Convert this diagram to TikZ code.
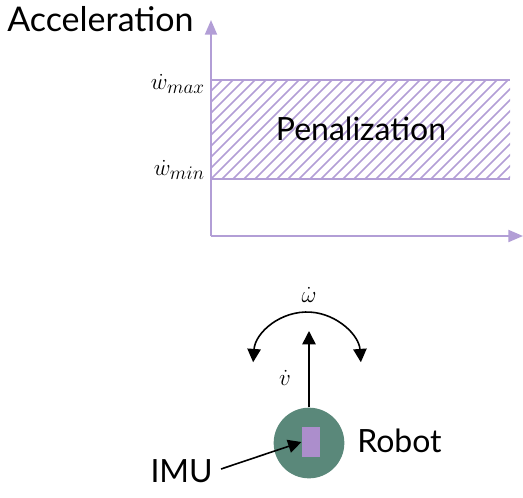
\documentclass[tikz,border=0pt]{standalone}
\usepackage{fontspec}
\setmainfont{Lato}
\usetikzlibrary{arrows.meta}
\definecolor{axiscol}{RGB}{178,158,214}
\definecolor{robotcol}{RGB}{90,136,122}
\definecolor{imucol}{RGB}{172,142,204}
\begin{document}
\begin{tikzpicture}[x=0.75pt,y=-0.75pt,
  axisline/.style={draw=axiscol,line width=1.5pt},
  axisarrow/.style={axisline,-{Triangle[length=11pt,width=9pt]}},
  hatch/.style={draw=axiscol,line width=1.3pt},
  blackarrow/.style={draw=black,line width=1.2pt,-{Triangle[length=10pt,width=10pt]}},
  label/.style={inner sep=0pt,font=\fontsize{24}{26}\selectfont},
  mathlabel/.style={inner sep=0pt,font=\fontsize{19}{21}\selectfont}]
\useasboundingbox (0,0) rectangle (523,497);

% axes
\coordinate (O) at (211,236);
\coordinate (ytip) at (211,20);
\coordinate (xtip) at (523,236);
\draw[axisarrow] (O) -- (ytip);
\draw[axisarrow] (O) -- (xtip);

% hatched penalization band
\coordinate (bl) at (211,179);
\coordinate (tr) at (510,80);
\begin{scope}
  \clip (bl) rectangle (tr);
  \foreach \i in {-110,-99,...,310}
    \draw[hatch] (211+\i,179) -- ++(100,-100);
\end{scope}
\draw[axisline] (211,80) -- (tr);
\draw[axisline] (bl) -- (510,179);

\node[label,anchor=west,font=\fontsize{25.5}{27}\selectfont] (acc) at (7,19) {Acceleration};
\node[label] (pen) at (361,129) {Penalization};
\node[mathlabel,anchor=east] (wmax) at (205,84) {$\dot{w}_{max}$};
\node[mathlabel,anchor=east] (wmin) at (205,170) {$\dot{w}_{min}$};

% robot
\node[circle,fill=robotcol,minimum size=53pt,inner sep=0pt] (robot) at (309,443) {};
\node[fill=imucol,minimum width=14pt,minimum height=22pt,inner sep=0pt] (imu) at (311,442) {};
\node[label,anchor=west] (rlabel) at (357,441) {Robot};
\node[label,anchor=east] (imulabel) at (213,471) {IMU};
\draw[blackarrow] (imulabel.east) ++(8,-2) coordinate (imustart) -- (imu.west);

% velocity and angular acceleration
\coordinate (vtip) at (309,331);
\draw[blackarrow] (robot.north) -- (vtip);
\node[mathlabel] (vdot) at (285,378) {$\dot{v}$};
\coordinate (arcc) at (307,366);
\draw[line width=1.2pt,{Triangle[length=10pt,width=10pt]}-{Triangle[length=10pt,width=10pt]}]
  ([shift={(-176:54)}]arcc) arc[start angle=-176,end angle=-4,radius=54];
\node[mathlabel] (wdot) at (309,295) {$\dot{\omega}$};
\end{tikzpicture}
\end{document}
